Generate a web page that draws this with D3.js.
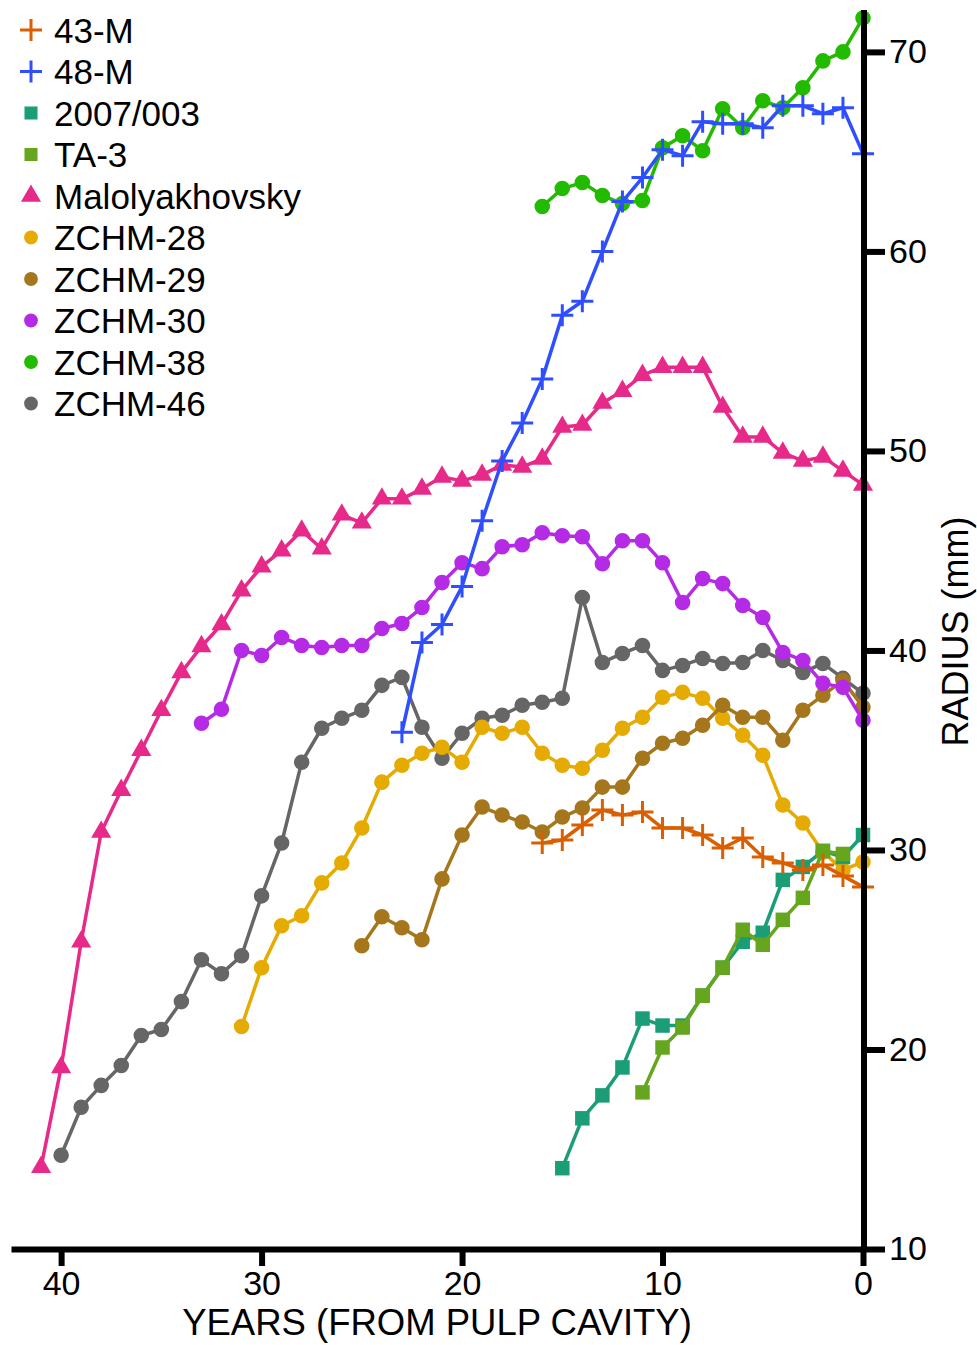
<!DOCTYPE html>
<html>
<head>
<meta charset="utf-8">
<script src="https://cdn.jsdelivr.net/npm/d3@7"></script>
<style>
  html, body { margin: 0; padding: 0; background: #fff; }
  svg { display: block; font-family: "Liberation Sans", Arial, sans-serif; }
</style>
</head>
<body>
<svg id="chart" width="977" height="1345"></svg>
<script>
// Tusk radius (mm) per year counted back from the pulp cavity.
// Each radius list runs from its oldest year down, one value per year.
const names = ["43-M", "48-M", "2007/003", "TA-3", "Malolyakhovsky",
               "ZCHM-28", "ZCHM-29", "ZCHM-30", "ZCHM-38", "ZCHM-46"];
const startYears = [16, 23, 15, 11, 41, 31, 25, 33, 16, 40];

const r43M = [30.35, 30.5, 31.25, 32.0, 31.75, 31.9, 31.1, 31.1, 30.75, 30.1,
              30.6, 29.65, 29.35, 29.0, 29.25, 28.7, 28.15];
const r48M = [35.9, 40.4, 41.3, 43.2, 46.5, 49.5, 51.4, 53.6, 56.8, 57.5, 60.0,
              62.5, 63.7, 65.1, 64.8, 66.5, 66.4, 66.4, 66.2, 67.3, 67.3, 66.9,
              67.2, 64.9];
const r2007 = [14.05, 16.55, 17.7, 19.1, 21.55, 21.2, 21.2, 22.7, 24.1, 25.4,
               25.85, 28.5, 29.15, 29.95, 29.65, 30.75];
const rTA3 = [17.85, 20.1, 21.1, 22.7, 24.1, 26.0, 25.25, 26.5, 27.6, 29.95, 29.8];
const rMalo = [14.1, 19.1, 25.4, 30.9, 33.0, 35.0, 37.0, 38.9, 40.2, 41.3, 43.0,
               44.2, 45.0, 46.0, 45.1, 46.8, 46.4, 47.6, 47.6, 48.1, 48.7, 48.5,
               48.8, 49.3, 49.2, 49.6, 51.2, 51.3, 52.4, 53.0, 53.8, 54.2, 54.2,
               54.2, 52.2, 50.7, 50.7, 49.9, 49.5, 49.7, 49.0, 48.3];
const rZ28 = [21.15, 24.1, 26.2, 26.7, 28.35, 29.35, 31.1, 33.4, 34.25, 34.85,
              35.15, 34.4, 36.15, 35.85, 36.15, 34.85, 34.25, 34.1, 35.0, 36.1,
              36.65, 37.65, 37.9, 37.6, 36.6, 35.75, 34.75, 32.25, 31.35, 29.9,
              29.0, 29.4];
const rZ29 = [25.2, 26.65, 26.1, 25.5, 28.55, 30.75, 32.15, 31.75, 31.4, 30.9,
              31.65, 32.1, 33.15, 33.15, 34.6, 35.35, 35.6, 36.25, 37.25, 36.65,
              36.65, 35.5, 37.0, 37.75, 38.5, 37.15];
const rZ30 = [36.35, 37.05, 40.0, 39.75, 40.65, 40.25, 40.15, 40.25, 40.25, 41.1,
              41.35, 42.15, 43.4, 44.4, 44.1, 45.2, 45.3, 45.9, 45.75, 45.7,
              44.35, 45.5, 45.5, 44.4, 42.4, 43.6, 43.35, 42.25, 41.65, 39.9,
              39.5, 38.35, 38.15, 36.5];
const rZ38 = [62.25, 63.15, 63.45, 62.8, 62.4, 62.55, 65.2, 65.8, 65.05, 67.15,
              66.2, 67.55, 67.2, 68.2, 69.55, 70.0, 71.7];
const rZ46 = [14.7, 17.1, 18.2, 19.2, 20.7, 21.0, 22.4, 24.5, 23.8, 24.7, 27.7,
              30.35, 34.4, 36.1, 36.6, 37.0, 38.25, 38.65, 36.15, 34.6, 35.85,
              36.6, 36.75, 37.25, 37.4, 37.6, 42.65, 39.4, 39.85, 40.25, 39.0,
              39.25, 39.6, 39.35, 39.4, 40.0, 39.5, 38.9, 39.35, 38.6, 37.85];

const radii = [r43M, r48M, r2007, rTA3, rMalo, rZ28, rZ29, rZ30, rZ38, rZ46];
const colors = ["#D95F02", "#2F4FFF", "#1B9E77", "#66A61E", "#E7298A",
                "#E6AB02", "#A6761D", "#B52BE5", "#22BB00", "#666666"];
const markers = ["plus", "plus", "square", "square", "triangle",
                 "circle", "circle", "circle", "circle", "circle"];
// later entries are painted on top
const paintOrder = [9, 5, 6, 7, 8, 4, 2, 3, 1, 0];

const xTicks = [40, 30, 20, 10, 0];
const yTicks = [10, 20, 30, 40, 50, 60, 70];

const svg = d3.select("#chart");
const x = d3.scaleLinear().domain([42.5, 0]).range([11, 863]);
const y = d3.scaleLinear().domain([10, 72.1]).range([1249, 10]);

const series = names.map((name, i) => ({
  name, color: colors[i], marker: markers[i],
  points: radii[i].map((r, k) => ({ year: startYears[i] - k, r }))
}));

function markerPath(kind) {
  if (kind === "plus") return "M-11,0H11M0,-11V11";
  if (kind === "square") return d3.symbol(d3.symbolSquare, 210)();
  if (kind === "triangle") return d3.symbol(d3.symbolTriangle, 175)();
  return d3.symbol(d3.symbolCircle, 190)();
}
function styleMarker(sel, s) {
  if (s.marker === "plus") {
    sel.attr("fill", "none").attr("stroke", s.color).attr("stroke-width", 3);
  } else {
    sel.attr("fill", s.color).attr("stroke", "none");
  }
}

const line = d3.line().x(d => x(d.year)).y(d => y(d.r));
const plot = svg.append("g");
paintOrder.forEach(i => {
  const s = series[i];
  const g = plot.append("g");
  g.append("path").datum(s.points)
    .attr("d", line).attr("fill", "none")
    .attr("stroke", s.color).attr("stroke-width", 3.5)
    .attr("stroke-linejoin", "round");
  g.selectAll("path.m").data(s.points).join("path")
    .attr("class", "m")
    .attr("d", markerPath(s.marker))
    .attr("transform", d => `translate(${x(d.year)},${y(d.r)})`)
    .call(sel => styleMarker(sel, s));
});

// Axes
const xAxis = svg.append("g").attr("transform", "translate(0,1249)")
  .call(d3.axisBottom(x).tickValues(xTicks).tickSize(17).tickSizeOuter(0).tickPadding(5));
const yAxis = svg.append("g").attr("transform", "translate(864,0)")
  .call(d3.axisRight(y).tickValues(yTicks).tickSize(21).tickSizeOuter(0).tickPadding(4));
[xAxis, yAxis].forEach(a => {
  a.select(".domain").attr("stroke", "#000").attr("stroke-width", 6);
  a.selectAll(".tick line").attr("stroke", "#000").attr("stroke-width", 6);
  a.selectAll(".tick text").attr("fill", "#000")
    .style("font-size", "34px").style("font-family", "Liberation Sans, Arial, sans-serif");
});
yAxis.select(".domain").attr("d", `M0,${y(10) + 3}V${y(72.1)}`);

svg.append("text")
  .attr("x", 437).attr("y", 1335)
  .attr("text-anchor", "middle")
  .style("font-size", "36.5px")
  .text("YEARS (FROM PULP CAVITY)");
svg.append("text")
  .attr("transform", `translate(968,${(y(10) + y(72.1)) / 2 + 2}) rotate(-90)`)
  .attr("text-anchor", "middle")
  .style("font-size", "36px")
  .text("RADIUS (mm)");

// Legend
const legend = svg.append("g");
series.forEach((s, i) => {
  const cy = 30 + i * 41.5;
  const m = legend.append("path")
    .attr("d", s.marker === "circle" ? d3.symbol(d3.symbolCircle, 150)()
             : s.marker === "square" ? d3.symbol(d3.symbolSquare, 170)()
             : markerPath(s.marker))
    .attr("transform", `translate(31,${cy})`);
  styleMarker(m, s);
  legend.append("text")
    .attr("x", 54).attr("y", cy).attr("dy", "0.36em")
    .style("font-size", "35px")
    .text(s.name);
});
</script>
</body>
</html>
